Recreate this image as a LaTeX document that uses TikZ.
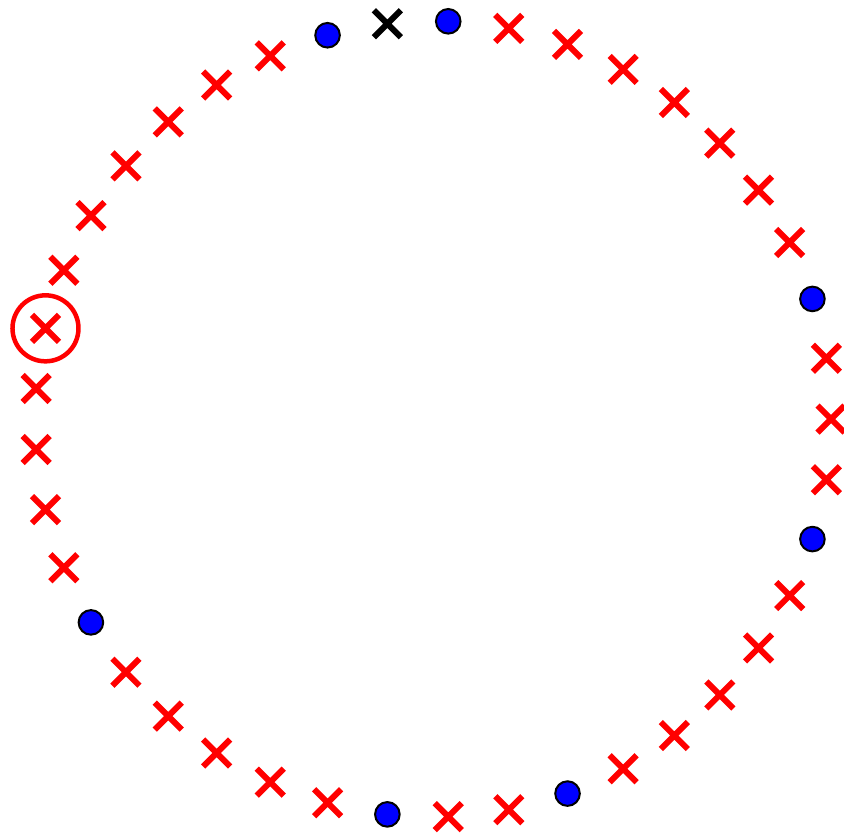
\documentclass[tikz,border=0pt]{standalone}
\begin{document}
\begin{tikzpicture}[x=1pt,y=1pt,
  crossmark/.style={line width=6pt, red},
  blackcross/.style={line width=6pt, black},
  dotmark/.style={fill=blue, draw=black, line width=2pt},
  ringmark/.style={draw=red, line width=4.5pt}]
\useasboundingbox (0,0) rectangle (844,-839);
\coordinate (c) at (433,-419);
\foreach \k in {0,...,40}{
  \pgfmathsetmacro\ang{(11-\k)*360/41}
  \coordinate (p\k) at ([shift={(\ang:398)}]c);
}
\foreach \k in {2,3,4,5,6,7,8,10,11,12,14,15,16,17,18,20,21,23,24,25,26,27,29,30,31,32,33,34,35,36,37,38,39}{
  \draw[crossmark] ([shift={(-13.5,-13.5)}]p\k) -- ([shift={(13.5,13.5)}]p\k)
                   ([shift={(-13.5,13.5)}]p\k) -- ([shift={(13.5,-13.5)}]p\k);
}
\draw[blackcross] ([shift={(-13.5,-13.5)}]p0) -- ([shift={(13.5,13.5)}]p0)
                  ([shift={(-13.5,13.5)}]p0) -- ([shift={(13.5,-13.5)}]p0);
\foreach \k in {1,9,13,19,22,28,40}{
  \draw[dotmark] (p\k) circle (12.3);
}
\draw[ringmark] (p33) circle (33);
\end{tikzpicture}
\end{document}
